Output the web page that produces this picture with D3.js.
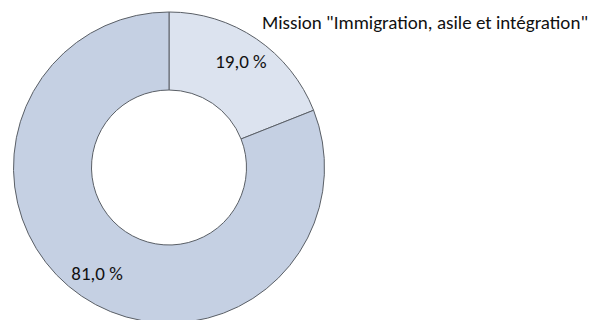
<!DOCTYPE html>
<html>
<head>
<meta charset="utf-8">
<script src="https://cdn.jsdelivr.net/npm/d3@7"></script>
<style>
  body { margin: 0; background: #fff; }
  text { font-family: Carlito, Calibri, "Open Sans", sans-serif; fill: #111; }
</style>
</head>
<body>
<div id="chart"></div>
<script>
// data
var categories = ["Mission \"Immigration, asile et intégration\"", "Autres"];
var values = [19.0, 81.0];
var valueLabels = ["19,0 %", "81,0 %"];
var colors = ["#dce3ef", "#c5d0e3"];

var svgWidth = 590, svgHeight = 320;
var cx = 169, cy = 167.5;
var outerR = 155.5, innerR = 77.5;

var svg = d3.select("#chart")
  .append("svg")
  .attr("width", svgWidth)
  .attr("height", svgHeight);

var g = svg.append("g")
  .attr("transform", "translate(" + cx + "," + cy + ")");

var pie = d3.pie().sort(null).value(function (d) { return d; });
var arc = d3.arc().innerRadius(innerR).outerRadius(outerR);
var labelArc = d3.arc().innerRadius(128).outerRadius(128);

var arcs = pie(values);

g.selectAll(".slice")
  .data(arcs)
  .enter().append("path")
  .attr("class", "slice")
  .attr("d", arc)
  .attr("fill", function (d, i) { return colors[i]; })
  .attr("stroke", "#5a5f66")
  .attr("stroke-width", 1);

g.selectAll(".label")
  .data(arcs)
  .enter().append("text")
  .attr("class", "label")
  .attr("transform", function (d) { return "translate(" + labelArc.centroid(d) + ")"; })
  .attr("text-anchor", "middle")
  .attr("dy", "0.33em")
  .style("font-size", "19px")
  .text(function (d, i) { return valueLabels[i]; });

// legend title (only the first category shown, as in the source)
svg.append("text")
  .attr("x", 588)
  .attr("y", 29)
  .attr("text-anchor", "end")
  .style("font-size", "19px")
  .text(categories[0]);
</script>
</body>
</html>
